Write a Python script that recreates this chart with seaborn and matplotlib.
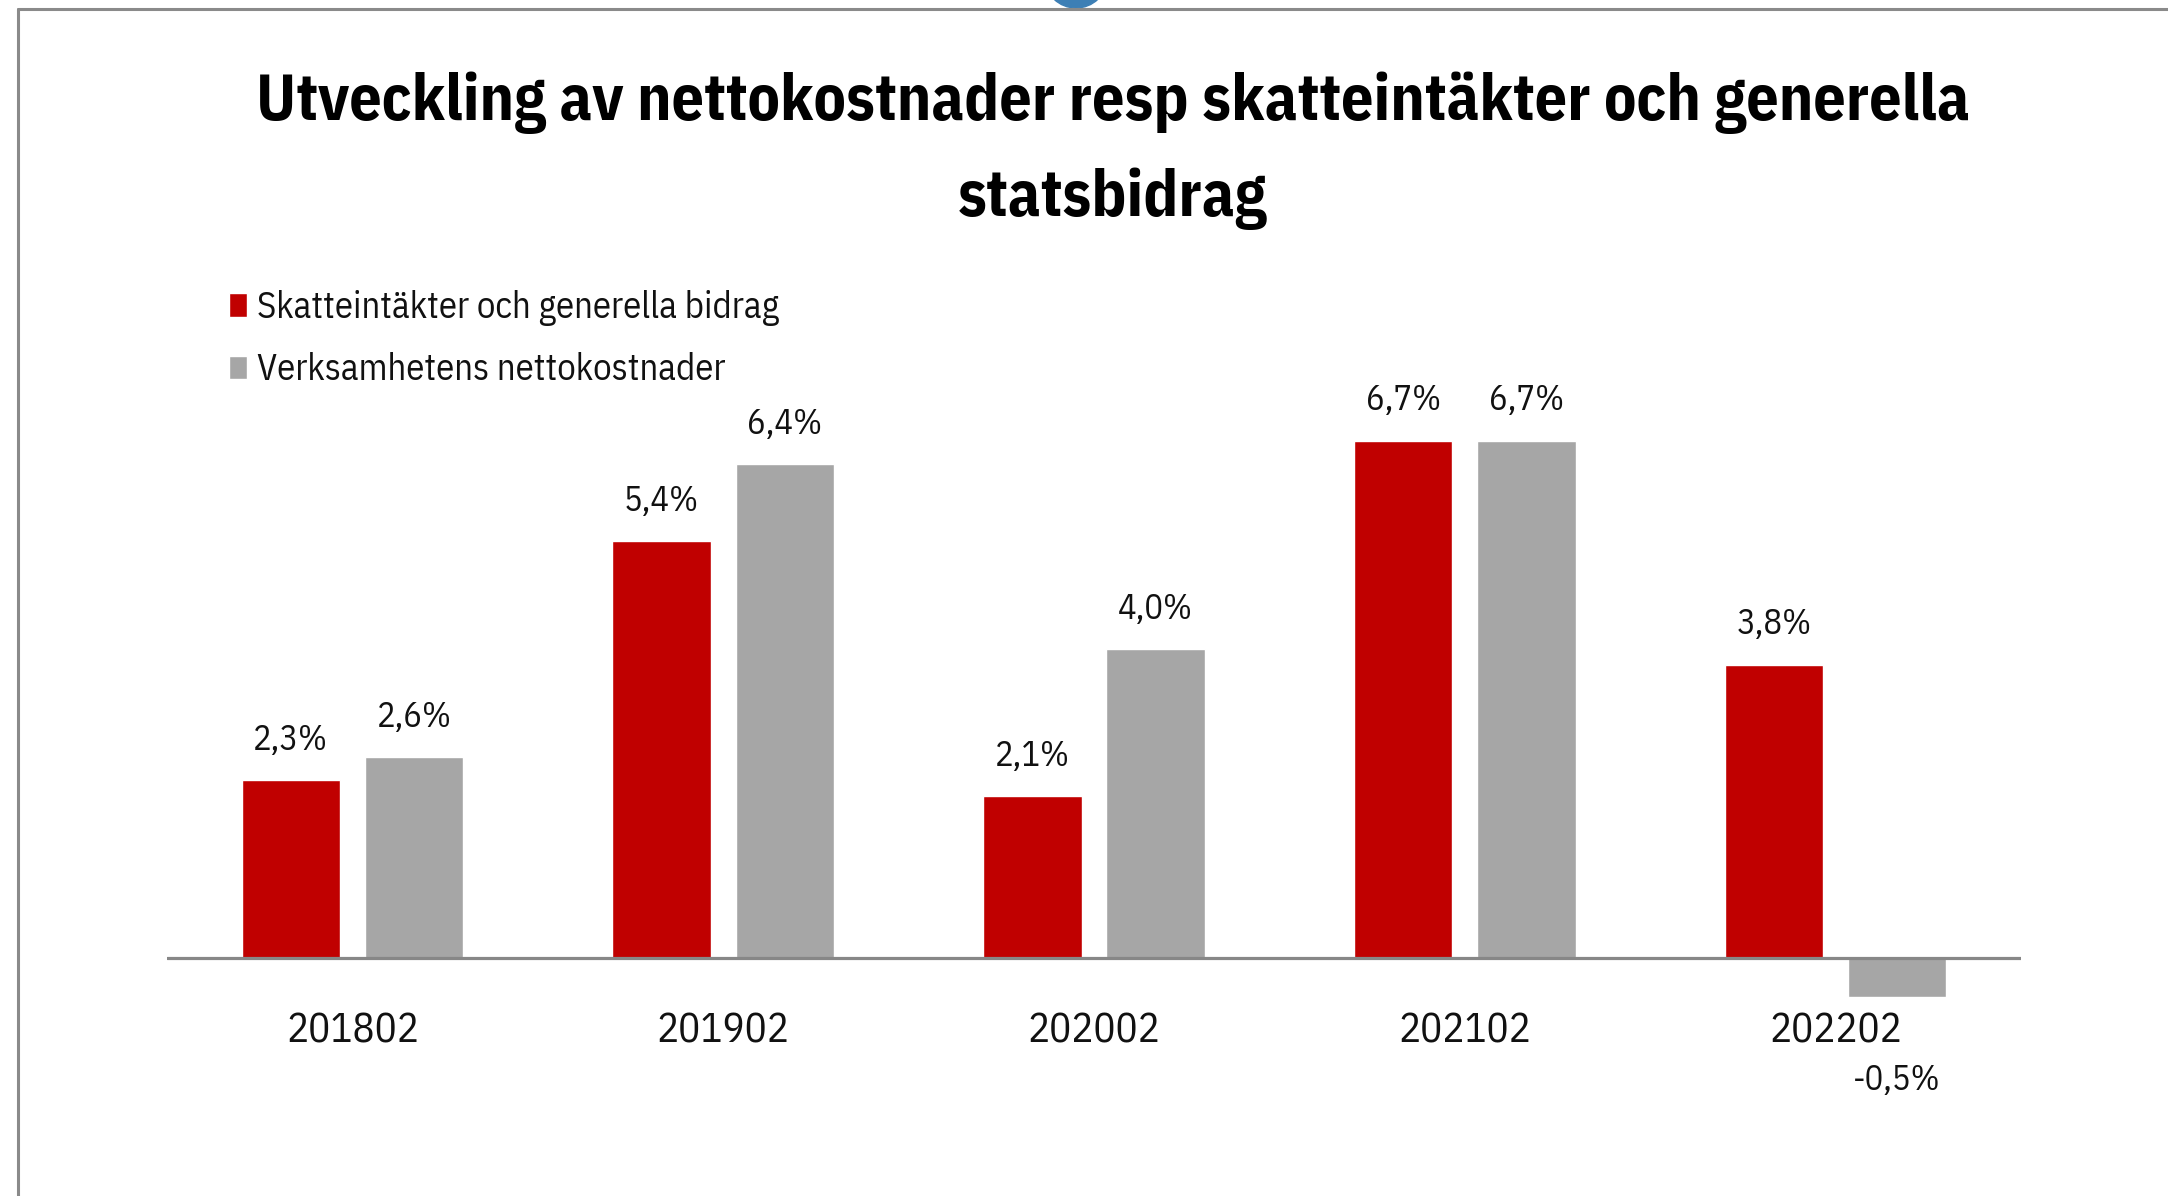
import numpy as np
import pandas as pd
import matplotlib
matplotlib.use('agg')
import matplotlib.pyplot as plt
import matplotlib.patches as mpatches
from matplotlib.lines import Line2D
import seaborn as sns

# chart data
years = ["201802", "201902", "202002", "202102", "202202"]
skatt = [2.3, 5.4, 2.1, 6.7, 3.8]
netto = [2.6, 6.4, 4.0, 6.7, -0.5]
series = ["Skatteintäkter och generella bidrag", "Verksamhetens nettokostnader"]
colors = ["#C00000", "#A6A6A6"]
title = "Utveckling av nettokostnader resp skatteintäkter och generella\nstatsbidrag"

W, H = 2168, 1196
FONT = ["IBM Plex Sans Condensed", "DejaVu Sans"]

sns.set_style("white")
plt.rcParams['font.family'] = FONT

df = pd.DataFrame({
    "year": years * 2,
    "value": skatt + netto,
    "serie": [series[0]] * len(years) + [series[1]] * len(years),
})

fig = plt.figure(figsize=(W / 100, H / 100), dpi=100)

# axes placed so zero line sits where the reference has it (77.2 px per %)
ax_left, ax_right = 167, 2021
ax_top, ax_bot = 958 - 7.5 * 77.2, 958 + 0.5 * 77.2
ax = fig.add_axes([ax_left / W, 1 - ax_bot / H, (ax_right - ax_left) / W, (ax_bot - ax_top) / H])

sns.barplot(data=df, x="year", y="value", hue="serie", palette=colors,
            width=0.664, gap=0.2, saturation=1, ax=ax, legend=True)

ax.set_xlim(-0.5, 4.5)
ax.set_ylim(-0.5, 7.5)
ax.axhline(0, color="#878787", lw=2.3, zorder=1)
for s in ax.spines.values():
    s.set_visible(False)
ax.set_yticks([])
ax.set_xlabel("")
ax.set_ylabel("")
ax.tick_params(axis='x', length=0, pad=11, labelsize=29.5, labelcolor="#111111")

# value labels
for cont in ax.containers:
    for bar in cont:
        v = bar.get_height()
        x = bar.get_x() + bar.get_width() / 2
        txt = ("%.1f%%" % v).replace(".", ",")
        off = 29 if v >= 0 else -60
        ax.annotate(txt, (x, v), xytext=(0, off), textcoords="offset points",
                    ha="center", va="center", fontsize=25, color="#111111")

# legend
handles, labels = ax.get_legend_handles_labels()
ax.get_legend().remove()
fig.legend(handles, labels, loc="upper left", bbox_to_anchor=(229 / W, 1 - 290 / H),
           frameon=False, fontsize=26.5, handlelength=0.5, handleheight=0.6,
           handletextpad=0.25, labelspacing=0.72, borderpad=0, borderaxespad=0,
           labelcolor="#111111")

fig.text(1113 / W, 1 - 151 / H, title, ha="center", va="center", fontsize=46,
         fontweight="bold", linespacing=1.7, color="black")

# frame of the screenshot
fig.add_artist(Line2D([18 / W, 1], [1 - 9 / H, 1 - 9 / H], color="#8a8a8a", lw=2.2))
fig.add_artist(Line2D([18 / W, 18 / W], [0, 1 - 9 / H], color="#8a8a8a", lw=2.2))
fig.add_artist(mpatches.Ellipse((1076 / W, 1 - (-22) / H), 62 / W, 60 / H,
                                color="#3d7fb5", transform=fig.transFigure))

fig.savefig("out.png", dpi=100)
